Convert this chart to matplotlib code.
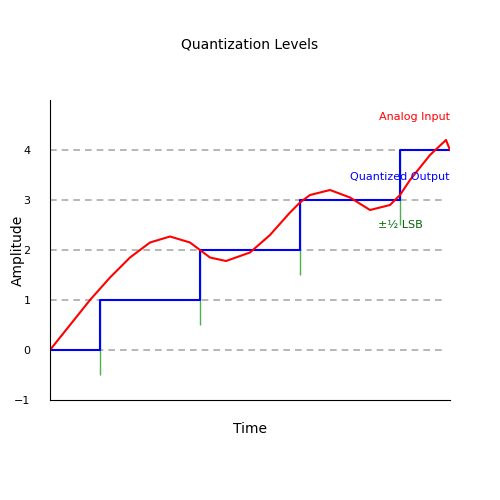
import matplotlib
matplotlib.use('Agg')
from matplotlib import pyplot as plt

# analog input
t_in = [0, 0.5, 1, 1.5, 2, 2.5, 3, 3.5, 3.75, 4, 4.4, 5, 5.5, 6, 6.25, 6.5,
        7, 7.5, 8, 8.5, 8.75, 9, 9.5, 9.9, 10]
v_in = [0, 0.5, 1.0, 1.45, 1.85, 2.15, 2.27, 2.15, 2.0, 1.85, 1.78, 1.95, 2.3,
        2.75, 2.95, 3.1, 3.2, 3.05, 2.8, 2.9, 3.1, 3.4, 3.9, 4.2, 4.0]

# quantized output steps
t_q = [0, 1.25, 3.75, 6.25, 8.75, 10]
v_q = [0, 1, 2, 3, 4, 4]

# LSB markers (x, bottom, top)
lsb_x = [1.25, 3.75, 6.25, 8.75]
lsb_lo = [-0.5, 0.5, 1.5, 2.5]
lsb_hi = [1, 2, 3, 4]

levels = [0, 1, 2, 3, 4]

fig = plt.figure(dpi=100, figsize=(5, 5))
ax = fig.add_axes([0.1, 0.2, 0.8, 0.6])

for lv in levels:
    ax.plot([0, 9.9], [lv, lv], color='#aaaaaa', ls=(0, (4, 3)), lw=1.2)

ax.vlines(lsb_x, lsb_lo, lsb_hi, color='#4caf50', lw=1)
ax.step(t_q, v_q, where='post', color='blue', lw=1.5)
ax.plot(t_in, v_in, color='red', lw=1.5)

ax.text(10, 4.65, 'Analog Input', color='red', fontsize=8, ha='right', va='center')
ax.text(10, 3.45, 'Quantized Output', color='blue', fontsize=8, ha='right', va='center')
ax.text(8.75, 2.5, '±½ LSB', color='darkgreen', fontsize=8, ha='center', va='center')

ax.set_xlim(0, 10)
ax.set_ylim(-1, 5)
ax.set_yticks([-1, 0, 1, 2, 3, 4])
ax.set_xticks([])
ax.tick_params(axis='y', length=0, labelsize=8, pad=14)
for s in ['top', 'right']:
    ax.spines[s].set_visible(False)
ax.set_xlabel('Time', fontsize=10, labelpad=16)
ax.set_ylabel('Amplitude', fontsize=10, labelpad=-8)
fig.text(0.5, 0.91, 'Quantization Levels', ha='center', va='center', fontsize=10)

plt.savefig('out.png')
